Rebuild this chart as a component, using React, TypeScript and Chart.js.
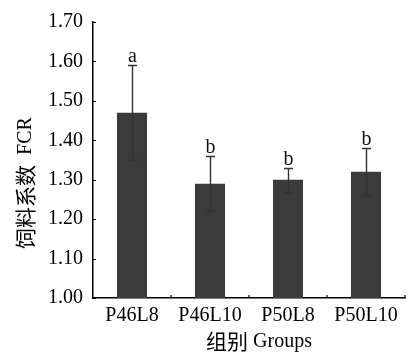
import React, { useEffect, useRef } from "react";
import { Chart, registerables } from "chart.js";

Chart.register(...registerables);

const categories = ["P46L8", "P46L10", "P50L8", "P50L10"];
const fcrValues = [1.47, 1.29, 1.3, 1.32];
const fcrSd = [0.12, 0.07, 0.03, 0.06];
const letters = ["a", "b", "b", "b"];
const yMin = 1.0;
const yMax = 1.7;
const yStep = 0.1;
const yTitleParts = ["饲料系数", "  FCR"];
const xTitleParts = ["组别", " Groups"];

const SERIF = "'Liberation Serif', serif";
const CJK = "'Noto Sans CJK SC', sans-serif";

function drawMixed(ctx: any, parts: string[], cx: number, cy: number, rot: number) {
  const fonts = [`21px ${CJK}`, `20px ${SERIF}`];
  let total = 0;
  const widths = parts.map((p, i) => {
    ctx.font = fonts[i];
    const w = ctx.measureText(p).width;
    total += w;
    return w;
  });
  ctx.save();
  ctx.translate(cx, cy);
  ctx.rotate(rot);
  ctx.fillStyle = "#000";
  ctx.textBaseline = "middle";
  ctx.textAlign = "left";
  let x = -total / 2;
  parts.forEach((p, i) => {
    ctx.font = fonts[i];
    ctx.fillText(p, x, i === 0 ? 0 : 1);
    x += widths[i];
  });
  ctx.restore();
}

const decoPlugin = {
  id: "deco",
  afterDatasetsDraw(chart: any) {
    const ctx = chart.ctx;
    const ys = chart.scales.y;
    const xs = chart.scales.x;
    const meta = chart.getDatasetMeta(0);
    ctx.save();
    // error bars + letters
    meta.data.forEach((el: any, i: number) => {
      const x = Math.round(el.x) + 0.5;
      const hi = Math.round(ys.getPixelForValue(fcrValues[i] + fcrSd[i])) + 0.5;
      const lo = Math.round(ys.getPixelForValue(fcrValues[i] - fcrSd[i])) + 0.5;
      ctx.strokeStyle = "#333";
      ctx.lineWidth = 1.4;
      ctx.beginPath();
      ctx.moveTo(x, hi);
      ctx.lineTo(x, lo);
      ctx.moveTo(x - 4.5, hi);
      ctx.lineTo(x + 4.5, hi);
      ctx.moveTo(x - 4.5, lo);
      ctx.lineTo(x + 4.5, lo);
      ctx.stroke();
      ctx.fillStyle = "#111";
      ctx.font = `20px ${SERIF}`;
      ctx.textAlign = "center";
      ctx.textBaseline = "alphabetic";
      ctx.fillText(letters[i], x, hi - 4);
    });
    // inward tick marks
    const area = chart.chartArea;
    ctx.strokeStyle = "#000";
    ctx.lineWidth = 1.2;
    ctx.beginPath();
    ys.ticks.forEach((t: any) => {
      const y = Math.round(ys.getPixelForValue(t.value)) + 0.5;
      ctx.moveTo(area.left, y);
      ctx.lineTo(area.left + 3, y);
    });
    for (let i = 0; i < categories.length; i++) {
      const x =
        i < categories.length - 1
          ? (xs.getPixelForValue(i) + xs.getPixelForValue(i + 1)) / 2
          : area.right;
      ctx.moveTo(x, area.bottom);
      ctx.lineTo(x, area.bottom - 3);
    }
    ctx.stroke();
    ctx.restore();
    // axis titles
    const midX = (area.left + area.right) / 2;
    drawMixed(ctx, xTitleParts, midX + 10, area.bottom + 43, 0);
    drawMixed(ctx, yTitleParts, 25, (area.top + area.bottom) / 2 + 23, -Math.PI / 2);
  },
};

export default function App() {
  const ref = useRef<HTMLCanvasElement>(null);
  useEffect(() => {
    document.body.style.margin = "0";
    const chart = new Chart(ref.current!, {
      type: "bar",
      data: {
        labels: categories,
        datasets: [
          {
            data: fcrValues,
            backgroundColor: "#3b3b3b",
            borderWidth: 0,
            barPercentage: 0.385,
            categoryPercentage: 1,
          },
        ],
      },
      options: {
        responsive: false,
        animation: false,
        devicePixelRatio: 1,
        layout: { padding: { left: 0, right: 8, top: 16, bottom: 0 } },
        plugins: { legend: { display: false }, tooltip: { enabled: false } },
        scales: {
          y: {
            min: yMin,
            max: yMax,
            afterFit(scale: any) {
              scale.width = 93;
            },
            ticks: {
              stepSize: yStep,
              padding: 10,
              color: "#000",
              font: { family: SERIF, size: 20 },
              callback: (v: any) => Number(v).toFixed(2),
            },
            grid: { display: true, drawOnChartArea: false, drawTicks: false },
            border: { display: true, color: "#000", width: 1.5 },
            title: { display: false },
          },
          x: {
            afterFit(scale: any) {
              scale.height = 56;
            },
            ticks: {
              padding: 6,
              color: "#000",
              autoSkip: false,
              maxRotation: 0,
              font: { family: SERIF, size: 20 },
            },
            grid: { display: true, drawOnChartArea: false, drawTicks: false },
            border: { display: true, color: "#000", width: 1.5 },
            title: { display: false },
          },
        },
      },
      plugins: [decoPlugin],
    });
    return () => chart.destroy();
  }, []);
  return (
    <div style={{ width: 413, height: 354 }}>
      <canvas ref={ref} width={413} height={354} style={{ display: "block" }} />
    </div>
  );
}
